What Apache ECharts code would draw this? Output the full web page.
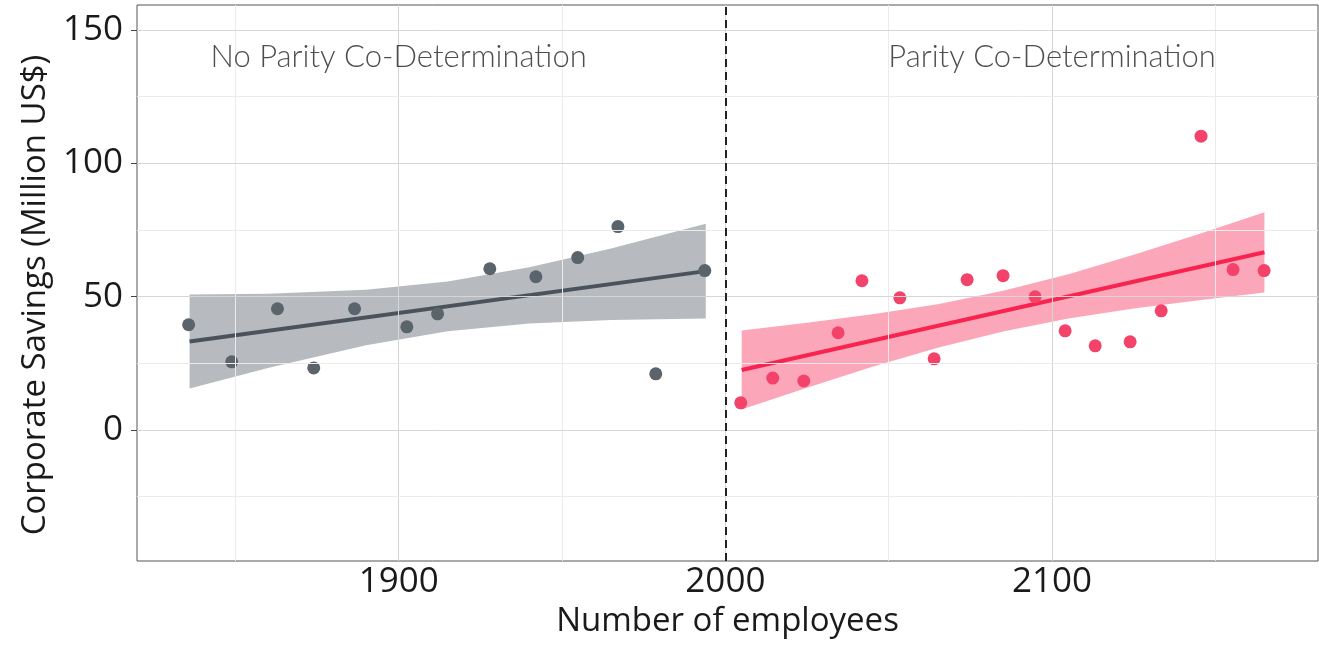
<!DOCTYPE html>
<html>
<head>
<meta charset="utf-8">
<title>Corporate savings vs. number of employees</title>
<script src="https://cdn.jsdelivr.net/npm/echarts@6/dist/echarts.min.js"></script>
<style>
  html, body { margin: 0; padding: 0; background: #fff; }
  #main { width: 1319px; height: 649px; }
</style>
</head>
<body>
<div id="main"></div>
<script>
// firms below the 2000-employee threshold
var noParityX = [1835.7, 1848.9, 1862.9, 1874.0, 1886.5, 1902.5, 1911.9, 1927.9, 1942.0, 1954.8, 1967.1, 1978.7, 1993.7];
var noParityY = [39.5, 25.6, 45.5, 23.3, 45.5, 38.7, 43.6, 60.5, 57.5, 64.7, 76.3, 21.1, 59.8];
// linear fit and its 95% band
var noParityFitX = [1836, 1994];
var noParityFitY = [33.2, 59.6];
var noParityBandX = [1836, 1860, 1890, 1915, 1940, 1965, 1994];
var noParityUpper = [50.8, 51.1, 52.6, 55.7, 61.1, 68.1, 77.4];
var noParityLower = [15.6, 23.3, 31.8, 37.1, 40.0, 41.3, 41.8];

// firms above the threshold
var parityX = [2004.7, 2014.5, 2024.0, 2034.5, 2041.8, 2053.4, 2063.9, 2074.0, 2085.0, 2094.8, 2104.0, 2113.2, 2123.9, 2133.4, 2145.6, 2155.4, 2164.9];
var parityY = [10.2, 19.5, 18.4, 36.5, 56.0, 49.6, 26.7, 56.4, 57.9, 50.0, 37.2, 31.6, 33.1, 44.7, 110.2, 60.2, 59.8];
var parityFitX = [2005, 2165];
var parityFitY = [22.5, 66.7];
var parityBandX = [2005, 2025, 2045, 2065, 2085, 2105, 2125, 2145, 2165];
var parityUpper = [37.3, 40.2, 43.4, 47.2, 52.2, 58.4, 65.7, 73.5, 81.7];
var parityLower = [7.7, 15.9, 23.7, 30.9, 37.0, 41.8, 45.6, 48.7, 51.6];

var xTicks = [1900, 2000, 2100];
var xMinorTicks = [1850, 1950, 2050, 2150];
var yTicks = [0, 50, 100, 150];
var yMinorTicks = [-25, 25, 75, 125];

var threshold = 2000;
var groupNames = ['No Parity Co-Determination', 'Parity Co-Determination'];
var groupLabelX = [1900, 2100];
var groupLabelY = [140, 140];

function zip(xs, ys) {
  return xs.map(function (x, i) { return [x, ys[i]]; });
}

// ribbon drawn as one polygon: upper edge left->right, lower edge back
function bandSeries(xs, upper, lower, color) {
  return {
    type: 'custom',
    silent: true,
    z: 1,
    data: [[xs[0], upper[0]]],
    renderItem: function (params, api) {
      var pts = [];
      for (var i = 0; i < xs.length; i++) pts.push(api.coord([xs[i], upper[i]]));
      for (i = xs.length - 1; i >= 0; i--) pts.push(api.coord([xs[i], lower[i]]));
      return { type: 'polygon', shape: { points: pts }, style: { fill: color } };
    }
  };
}

var FONT = 'Open Sans';
var TEXT = '#1a1a1a';
var gridMajor = '#d6d6d6';
var gridMinor = '#ebebeb';

var gridLines = [];
xTicks.forEach(function (v) { gridLines.push({ xAxis: v, lineStyle: { color: gridMajor } }); });
xMinorTicks.forEach(function (v) { gridLines.push({ xAxis: v, lineStyle: { color: gridMinor } }); });
yTicks.forEach(function (v) { gridLines.push({ yAxis: v, lineStyle: { color: gridMajor } }); });
yMinorTicks.forEach(function (v) { gridLines.push({ yAxis: v, lineStyle: { color: gridMinor } }); });

var myChart = echarts.init(document.getElementById('main'));

var option = {
  animation: false,
  backgroundColor: '#fff',
  grid: {
    left: 137, right: 1, top: 5, bottom: 88,
    show: true, borderColor: '#555', borderWidth: 1
  },
  xAxis: {
    type: 'value',
    min: 1819.9, max: 2181.4,
    splitLine: { show: false },
    axisLine: { show: false },
    axisTick: { show: true, customValues: xTicks, length: 6, lineStyle: { color: '#444' } },
    axisLabel: {
      customValues: xTicks, margin: 4, fontSize: 35, fontFamily: FONT, color: TEXT,
      formatter: function (v) { return String(v); }
    },
    name: 'Number of employees',
    nameLocation: 'middle',
    nameGap: 41,
    nameTextStyle: { fontSize: 33, fontFamily: FONT, color: TEXT }
  },
  yAxis: {
    type: 'value',
    min: -49.1, max: 159.4,
    splitLine: { show: false },
    axisLine: { show: false },
    axisTick: { show: true, customValues: yTicks, length: 6, lineStyle: { color: '#444' } },
    axisLabel: {
      customValues: yTicks, margin: 14, fontSize: 35, fontFamily: FONT, color: TEXT,
      formatter: function (v) { return String(v); }
    },
    name: 'Corporate Savings (Million US$)',
    nameLocation: 'middle',
    nameGap: 63,
    nameTextStyle: { fontSize: 33, fontFamily: FONT, color: TEXT, padding: [0, 24, 0, 0] }
  },
  series: [
    {
      // background grid
      type: 'line', data: [], z: 0, silent: true,
      markLine: {
        silent: true, symbol: ['none', 'none'], label: { show: false },
        lineStyle: { type: 'solid', width: 1 },
        data: gridLines
      }
    },
    {
      // 2000-employee threshold
      type: 'line', data: [], z: 3, silent: true,
      markLine: {
        silent: true, symbol: ['none', 'none'], label: { show: false },
        lineStyle: { type: [8, 5], width: 2, color: '#222' },
        data: [{ xAxis: threshold }]
      }
    },
    bandSeries(noParityBandX, noParityUpper, noParityLower, 'rgba(74, 83, 92, 0.4)'),
    bandSeries(parityBandX, parityUpper, parityLower, 'rgba(248, 36, 79, 0.4)'),
    {
      type: 'line', data: zip(noParityFitX, noParityFitY), showSymbol: false, z: 2, silent: true,
      lineStyle: { color: '#4a535c', width: 4 }
    },
    {
      type: 'line', data: zip(parityFitX, parityFitY), showSymbol: false, z: 2, silent: true,
      lineStyle: { color: '#f8244f', width: 4 }
    },
    {
      type: 'scatter', data: zip(noParityX, noParityY), symbolSize: 13, z: 4,
      itemStyle: { color: '#5b636b', opacity: 1 }
    },
    {
      type: 'scatter', data: zip(parityX, parityY), symbolSize: 13, z: 4,
      itemStyle: { color: '#f3436a', opacity: 1 }
    },
    {
      type: 'scatter', symbolSize: 0, z: 5, silent: true,
      data: groupNames.map(function (name, i) {
        return { name: name, value: [groupLabelX[i], groupLabelY[i]] };
      }),
      label: {
        show: true, position: 'inside', formatter: '{b}',
        fontSize: 31, fontFamily: 'Lato', fontWeight: 300, color: '#222'
      }
    }
  ]
};

myChart.setOption(option);
</script>
</body>
</html>
